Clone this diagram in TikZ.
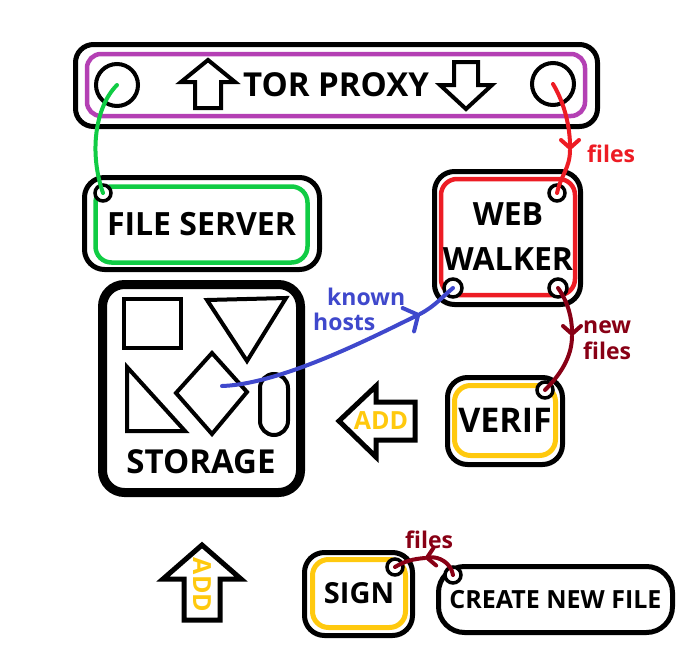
\documentclass[tikz,border=0pt]{standalone}
\usepackage{fontspec}
\setmainfont{Open Sans}
\usetikzlibrary{arrows.meta, positioning, calc}

\definecolor{torpurple}{RGB}{180,64,180}
\definecolor{srvgreen}{RGB}{16,204,68}
\definecolor{walkred}{RGB}{237,28,36}
\definecolor{darkred}{RGB}{136,0,21}
\definecolor{signyellow}{RGB}{255,201,14}
\definecolor{hostblue}{RGB}{63,72,204}

\tikzset{
  outerbox/.style={draw=black, line width=5pt, rounded corners=20pt, inner sep=0pt},
  ringbox/.style={draw=#1, line width=4.5pt, rounded corners=16pt, inner sep=0pt},
  port/.style={draw=black, fill=white, circle, line width=3.5pt, minimum size=16pt, inner sep=0pt},
  hole/.style={draw=black, circle, line width=4pt, minimum size=42pt, inner sep=0pt},
  wire/.style={line width=4pt, line cap=round, draw=#1},
  bigtext/.style={font={\fontsize{#1}{#1}\selectfont\bfseries}},
  lbl/.style={font={\fontsize{23}{23}\selectfont\bfseries}, inner sep=0pt, anchor=base west},
  arrowshape/.style={draw=black, line width=5pt, line join=miter},
  shapeline/.style={draw=black, line width=4pt},
  >={Straight Barb[length=8pt, width=18pt, round]}
}

\begin{document}
\begin{tikzpicture}[x=1pt, y=-1pt]
\useasboundingbox (0,0) rectangle (696,659);

% tor proxy
\node[outerbox, minimum width=522pt, minimum height=82pt, rounded corners=18pt] (tor) at (336.5,85.5) {};
\node[ringbox=torpurple, minimum width=498pt, minimum height=62pt, rounded corners=14pt, bigtext=33] (torin) at (336,85) {TOR PROXY};
\node[hole] (torL) at (117,85) {};
\node[hole] (torR) at (553,84) {};
\draw[arrowshape, line width=4pt] (208,60) -- (235,82) -- (221,82) -- (221,108) -- (195,108) -- (195,82) -- (181,82) -- cycle;
\draw[arrowshape, line width=4pt] (454,62) -- (478,62) -- (478,85) -- (492,85) -- (466,109) -- (440,85) -- (454,85) -- cycle;

% file server and web walker
\node[outerbox, minimum width=235pt, minimum height=92pt] (fs) at (202,223.5) {};
\node[ringbox=srvgreen, minimum width=212pt, minimum height=76pt, bigtext=32] (fsin) at (201.5,224.5) {FILE SERVER};
\node[port] (fsC) at (103,193) {};

\node[outerbox, minimum width=146pt, minimum height=133pt] (ww) at (507.5,238) {};
\node[ringbox=walkred, minimum width=134pt, minimum height=116pt, align=center, font={\fontsize{32}{45}\selectfont\bfseries}] (wwin) at (508,237) {WEB\\WALKER};
\node[port] (wwTR) at (557,193) {};
\node[port, minimum size=18pt] (wwBL) at (453,288) {};
\node[port, minimum size=18pt] (wwBR) at (558,288) {};

% storage
\node[outerbox, line width=9pt, minimum width=198pt, minimum height=208pt, rounded corners=22pt] (st) at (201.5,388.5) {};
\node[bigtext=33] (stlbl) at (201,462) {STORAGE};
\draw[shapeline] (124,299) rectangle (181,348);
\draw[shapeline] (207,300) -- (286,298) -- (247,361) -- cycle;
\draw[shapeline] (127,367) -- (127,431) -- (185,431) -- cycle;
\draw[shapeline] (212,353) -- (247,392) -- (212,434) -- (176,393) -- cycle;
\draw[shapeline, rounded corners=14pt] (260,374) rectangle (288,435);
\coordinate (hostsrc) at (222,386);

\draw[arrowshape] (339,421) -- (376,386) -- (376,402) -- (415,402) -- (415,440) -- (376,440) -- (376,457) -- cycle;
\node[bigtext=25, text=signyellow] (addL) at (381,421) {ADD};

% verif
\node[outerbox, minimum width=115pt, minimum height=87pt] (vf) at (505,421) {};
\node[ringbox=signyellow, line width=5pt, minimum width=101pt, minimum height=70pt, bigtext=34] (vfin) at (505,420.5) {VERIF};
\node[port] (vfC) at (545,390) {};

% bottom row
\draw[arrowshape] (202,545) -- (241,579) -- (220,579) -- (220,620) -- (184,620) -- (184,579) -- (163,579) -- cycle;
\node[bigtext=25, text=signyellow, rotate=-90] (addU) at (202,585) {ADD};

\node[outerbox, minimum width=108pt, minimum height=83pt] (sg) at (358.5,594) {};
\node[ringbox=signyellow, line width=5pt, minimum width=93pt, minimum height=68pt, bigtext=29] (sgin) at (359,593.5) {SIGN};
\node[port] (sgC) at (395,567) {};

\node[outerbox, minimum width=234pt, minimum height=66pt, rounded corners=26pt, bigtext=25] (cnf) at (555.5,599.5) {CREATE NEW FILE};
\node[port] (cnfC) at (453,575) {};

% wires
\draw[wire=srvgreen] (torL.center) .. controls +(-22,22) and +(-14,-40) .. (fsC.center);

\coordinate (fmidA) at (570,150);
\draw[wire=walkred, ->] (torR.center) .. controls +(12,20) and +(0,-22) .. (fmidA);
\draw[wire=walkred] (fmidA) .. controls +(0,18) and +(4,-18) .. (wwTR.center);
\node[lbl, text=walkred] (filesA) at (587,162) {files};

\coordinate (fmidB) at (572,336);
\draw[wire=darkred, ->] (wwBR.center) .. controls +(10,14) and +(0,-18) .. (fmidB);
\draw[wire=darkred] (fmidB) .. controls +(0,22) and +(14,-14) .. (vfC.center);
\node[lbl, text=darkred] (newlbl) at (583,333) {new};
\node[lbl, text=darkred] (filesB) at (583,359) {files};

\coordinate (fmidC) at (420,314);
\draw[wire=hostblue, ->, >={Straight Barb[length=11pt, width=26pt, round]}] (hostsrc) .. controls +(60,-2) and +(-45,22) .. (fmidC);
\draw[wire=hostblue] (fmidC) .. controls +(15,-8) and +(-12,10) .. (wwBL.center);
\node[lbl, text=hostblue] (knownlbl) at (327,305) {known};
\node[lbl, text=hostblue] (hostslbl) at (313,330) {hosts};

\coordinate (fmidD) at (425,558);
\draw[wire=darkred, ->] (cnfC.center) .. controls +(-2,-12) and +(14,-2) .. (fmidD);
\draw[wire=darkred] (fmidD) .. controls +(-12,1) and +(10,-6) .. (sgC.center);
\node[lbl, text=darkred] (filesC) at (405,548) {files};
\end{tikzpicture}
\end{document}
